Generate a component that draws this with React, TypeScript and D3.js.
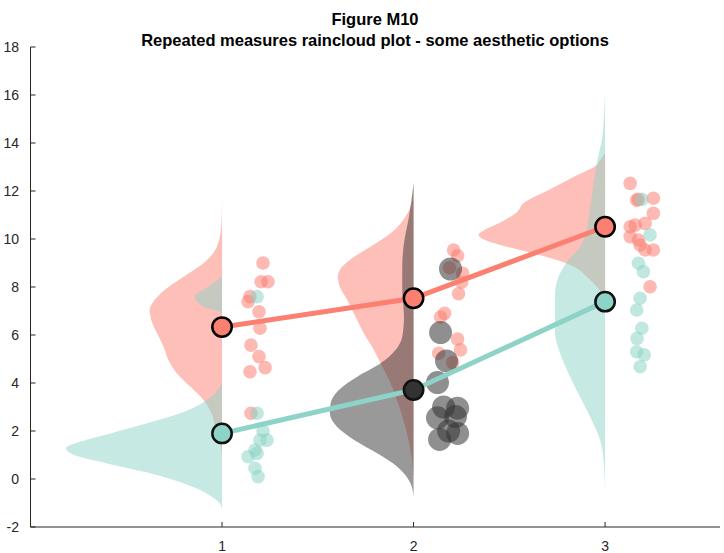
import React from 'react';
import * as d3 from 'd3';

// ---------- data ----------
const categories = [1, 2, 3];
const xTickLabels = ['1', '2', '3'];
const yTicks = [-2, 0, 2, 4, 6, 8, 10, 12, 14, 16, 18];
const titleLines = ['Figure M10', 'Repeated measures raincloud plot - some aesthetic options'];

const redMeans = [6.33, 7.53, 10.51];
const tealMeans = [1.9, 3.71, 7.39];

// raw values (rain) and their horizontal jitter (category units)
const red1Values = [9.0, 8.22, 8.22, 7.6, 7.39, 6.97, 6.28, 5.58, 5.1, 4.47, 4.64, 2.74];
const red1Jitter = [0.214, 0.204, 0.24, 0.146, 0.136, 0.193, 0.198, 0.151, 0.193, 0.146, 0.225, 0.151];
const red2Values = [9.54, 9.3, 8.8, 8.57, 8.2, 7.72, 6.9, 6.75, 5.83, 5.38, 5.24, 4.85];
const red2Jitter = [0.209, 0.23, 0.188, 0.256, 0.251, 0.235, 0.162, 0.141, 0.23, 0.245, 0.131, 0.204];
const red3Values = [12.32, 11.65, 11.7, 11.62, 11.07, 10.58, 10.51, 10.65, 10.1, 9.96, 9.54, 9.54, 9.75, 8.01];
const red3Jitter = [0.131, 0.174, 0.252, 0.165, 0.252, 0.157, 0.131, 0.209, 0.131, 0.174, 0.252, 0.209, 0.183, 0.235];

const teal1Values = [7.6, 2.74, 2.0, 1.62, 1.62, 1.21, 0.93, 1.07, 0.45, 0.1];
const teal1Jitter = [0.183, 0.183, 0.214, 0.235, 0.198, 0.172, 0.136, 0.183, 0.172, 0.188];
const dark2Values = [8.75, 6.1, 4.92, 4.02, 3.0, 2.95, 2.55, 2.6, 2.0, 1.9, 1.65];
const dark2Jitter = [0.193, 0.141, 0.172, 0.125, 0.157, 0.23, 0.125, 0.219, 0.183, 0.23, 0.136];
const teal3Values = [11.65, 10.17, 8.99, 8.64, 7.53, 7.04, 6.28, 5.86, 5.3, 5.17, 4.68];
const teal3Jitter = [0.192, 0.235, 0.174, 0.2, 0.183, 0.165, 0.192, 0.167, 0.165, 0.204, 0.183];

// cloud density profiles: [value, density]
const cloudRed1: [number, number][] = [[11.63, 0], [10.65, 0.003], [9.68, 0.027], [8.99, 0.097], [8.43, 0.2], [7.88, 0.3], [7.32, 0.364], [7.04, 0.378], [6.49, 0.364], [5.93, 0.33], [5.51, 0.305], [4.96, 0.28], [4.4, 0.235], [3.85, 0.166], [3.29, 0.097], [2.74, 0.055], [2.18, 0.035], [1.49, 0.009], [0.93, 0]];
const cloudRed2: [number, number][] = [[12.46, 0], [11.63, 0.007], [10.93, 0.042], [10.24, 0.12], [9.68, 0.225], [9.26, 0.31], [8.85, 0.372], [8.43, 0.395], [8.01, 0.385], [7.46, 0.346], [6.76, 0.303], [6.07, 0.26], [5.38, 0.207], [4.82, 0.172], [3.99, 0.12], [2.6, 0.059], [1.21, 0.016], [0.1, 0]];
const cloudRed3: [number, number][] = [[13.57, 0], [13.29, 0.025], [13.08, 0.044], [12.6, 0.16], [12.04, 0.294], [11.49, 0.426], [11.14, 0.458], [10.65, 0.557], [10.38, 0.63], [10.17, 0.661], [9.96, 0.627], [9.68, 0.513], [9.4, 0.374], [9.12, 0.252], [8.85, 0.165], [8.43, 0.096], [8.01, 0.044], [7.6, 0.009], [7.18, 0]];
const cloudTeal1: [number, number][] = [[8.43, 0], [8.01, 0.073], [7.6, 0.142], [7.18, 0.098], [6.9, 0], [4.125, 0], [3.57, 0.038], [3.15, 0.107], [2.74, 0.219], [2.32, 0.392], [1.9, 0.582], [1.56, 0.737], [1.28, 0.815], [1.0, 0.772], [0.65, 0.599], [0.24, 0.375], [-0.18, 0.202], [-0.6, 0.081], [-1.01, 0.012], [-1.29, 0]];
const cloudDark2: [number, number][] = [[12.32, 0], [10.93, 0.024], [9.82, 0.05], [8.85, 0.059], [7.88, 0.059], [6.76, 0.05], [5.93, 0.059], [5.38, 0.094], [4.82, 0.172], [4.26, 0.294], [3.71, 0.39], [3.15, 0.433], [2.74, 0.437], [2.18, 0.4], [1.63, 0.31], [1.07, 0.19], [0.51, 0.085], [-0.18, 0.016], [-0.74, 0]];
const cloudTeal3: [number, number][] = [[16.21, 0], [15.24, 0.005], [14.13, 0.017], [13.29, 0.04], [12.46, 0.057], [11.07, 0.082], [10.38, 0.096], [9.68, 0.131], [9.12, 0.191], [8.57, 0.235], [7.74, 0.261], [6.9, 0.261], [6.07, 0.261], [5.24, 0.235], [4.4, 0.191], [3.43, 0.131], [2.46, 0.07], [1.35, 0.017], [-0.04, 0.002], [-0.6, 0]];

// ---------- styling ----------
const W = 724;
const H = 553;
const RED = '#fb8072';
const TEAL = '#8dd3c7';
const DARK = '#333333';
const AXIS = '#262626';
const FONT = '"Liberation Sans", Arial, Helvetica, sans-serif';

const x = d3.scaleLinear().domain([0, 3.6]).range([30.5, 720]);
const y = d3.scaleLinear().domain([-2, 18]).range([527, 47]);

type Group = { cat: number; color: string; values: number[]; jitter: number[]; cloud: [number, number][]; r: number };

const redGroups: Group[] = [
  { cat: 1, color: RED, values: red1Values, jitter: red1Jitter, cloud: cloudRed1, r: 6.8 },
  { cat: 2, color: RED, values: red2Values, jitter: red2Jitter, cloud: cloudRed2, r: 6.8 },
  { cat: 3, color: RED, values: red3Values, jitter: red3Jitter, cloud: cloudRed3, r: 6.8 },
];
const tealGroups: Group[] = [
  { cat: 1, color: TEAL, values: teal1Values, jitter: teal1Jitter, cloud: cloudTeal1, r: 6.8 },
  { cat: 2, color: DARK, values: dark2Values, jitter: dark2Jitter, cloud: cloudDark2, r: 11.5 },
  { cat: 3, color: TEAL, values: teal3Values, jitter: teal3Jitter, cloud: cloudTeal3, r: 6.8 },
];

function cloudPath(g: Group): string {
  const pts = [...g.cloud].sort((a, b) => b[0] - a[0]);
  const area = d3
    .area<[number, number]>()
    .y((d) => y(d[0]))
    .x0(x(g.cat))
    .x1((d) => x(g.cat - d[1]))
    .curve(d3.curveMonotoneY);
  return area(pts) || '';
}

export default function App() {
  const meanLine = d3
    .line<[number, number]>()
    .x((d) => x(d[0]))
    .y((d) => y(d[1]));
  const redPts: [number, number][] = categories.map((c, i) => [c, redMeans[i]]);
  const tealPts: [number, number][] = categories.map((c, i) => [c, tealMeans[i]]);
  const allGroups = [...redGroups, ...tealGroups];

  return (
    <svg width={W} height={H} style={{ position: 'absolute', left: 0, top: 0, background: '#fff' }} fontFamily={FONT}>
      <rect x={0} y={0} width={W} height={H} fill="#fff" />
      {allGroups.map((g, i) => (
        <path key={'c' + i} d={cloudPath(g)} fill={g.color} fillOpacity={0.5} stroke="none" />
      ))}
      {allGroups.map((g, i) =>
        g.values.map((v, j) => (
          <circle key={'d' + i + '-' + j} cx={x(g.cat + g.jitter[j])} cy={y(v)} r={g.r} fill={g.color} fillOpacity={0.55} />
        ))
      )}
      <path d={meanLine(redPts) || ''} fill="none" stroke={RED} strokeWidth={5} />
      <path d={meanLine(tealPts) || ''} fill="none" stroke={TEAL} strokeWidth={5} />
      {redPts.map((p, i) => (
        <circle key={'mr' + i} cx={x(p[0])} cy={y(p[1])} r={9.7} fill={RED} stroke="#000" strokeWidth={2.5} />
      ))}
      {tealPts.map((p, i) => (
        <circle key={'mt' + i} cx={x(p[0])} cy={y(p[1])} r={9.7} fill={tealGroups[i].color} stroke="#111" strokeWidth={2.5} />
      ))}
      <line x1={x(0)} x2={x(0)} y1={y(18)} y2={y(-2)} stroke={AXIS} strokeWidth={1} />
      <line x1={x(0)} x2={x(3.6)} y1={y(-2)} y2={y(-2)} stroke={AXIS} strokeWidth={1} />
      {yTicks.map((t) => (
        <g key={'yt' + t}>
          <line x1={x(0)} x2={x(0) + 5} y1={y(t)} y2={y(t)} stroke={AXIS} strokeWidth={1} />
          <text x={19} y={y(t)} dy="0.36em" textAnchor="end" fontSize={14} fill={AXIS}>
            {t}
          </text>
        </g>
      ))}
      {categories.map((c, i) => (
        <g key={'xt' + c}>
          <line x1={x(c)} x2={x(c)} y1={y(-2)} y2={y(-2) - 5} stroke={AXIS} strokeWidth={1} />
          <text x={x(c)} y={551} textAnchor="middle" fontSize={14} fill={AXIS}>
            {xTickLabels[i]}
          </text>
        </g>
      ))}
      <text x={375} y={25} textAnchor="middle" fontSize={16.5} fontWeight="bold" fill="#000">
        {titleLines[0]}
      </text>
      <text x={375} y={46} textAnchor="middle" fontSize={16.5} fontWeight="bold" fill="#000">
        {titleLines[1]}
      </text>
    </svg>
  );
}
